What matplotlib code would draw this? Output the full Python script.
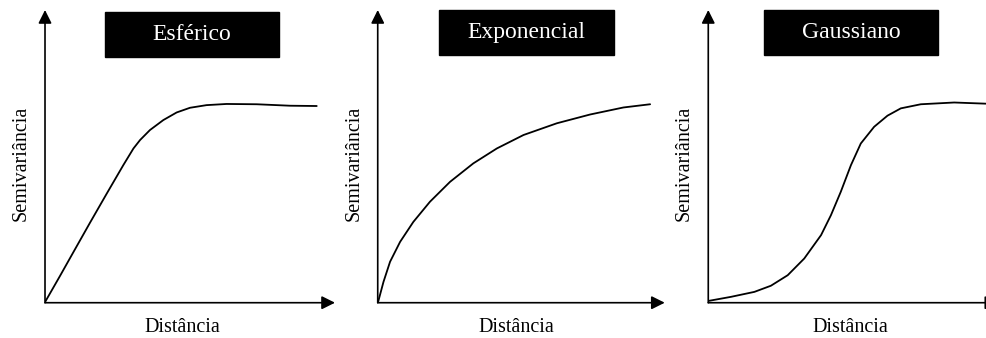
import matplotlib
matplotlib.use("Agg")
import matplotlib.pyplot as plt
from matplotlib.patches import Rectangle

plt.rcParams['font.family'] = ['Liberation Serif', 'DejaVu Serif']

# Semivariogram shapes (distance and semivariance in arbitrary units, 0-100)
titles = ["Esférico", "Exponencial", "Gaussiano"]

esferico_x = [0, 5.2, 9.8, 15.5, 21.3, 27.0, 30.5, 32.8, 36.2, 40.8, 45.4, 50.0,
              55.7, 62.6, 73.0, 84.5, 93.7]
esferico_y = [0.2, 9.2, 17.3, 27.3, 37.3, 47.0, 52.7, 55.6, 59.0, 62.4, 65.0, 66.6,
              67.5, 67.9, 67.8, 67.3, 67.2]

exponencial_x = [0.2, 2.0, 4.3, 7.8, 12.4, 18.2, 25.2, 33.3, 41.5, 50.8, 62.4, 74.0,
                 85.6, 94.9]
exponencial_y = [0.5, 7.1, 14.0, 20.8, 27.6, 34.5, 41.3, 47.6, 52.7, 57.3, 61.3, 64.3,
                 66.7, 67.8]

gaussiano_x = [0, 7.8, 15.9, 21.6, 27.4, 33.1, 38.9, 42.3, 45.7, 49.2, 52.6, 57.2,
               61.8, 66.4, 73.3, 84.8, 95.7]
gaussiano_y = [0.6, 2.0, 3.7, 5.8, 9.4, 15.1, 23.1, 29.9, 37.9, 47.0, 54.4, 60.1,
               63.9, 66.4, 67.8, 68.4, 68.0]

curves = [(esferico_x, esferico_y), (exponencial_x, exponencial_y), (gaussiano_x, gaussiano_y)]

xlabel = "Distância"
ylabel = "Semivariância"

fig = plt.figure(figsize=(9.87, 3.38), dpi=100)

# axes placement (figure fractions) and title box position (axes fractions)
lefts = [0.0456, 0.3827, 0.7176]
widths = [0.2938, 0.2908, 0.2938]
boxes = [(0.207, 0.839, 0.60, 0.154), (0.214, 0.846, 0.61, 0.154), (0.192, 0.846, 0.60, 0.154)]
xlab_pos = [0.475, 0.484, 0.489]

for i, (title, (xs, ys)) in enumerate(zip(titles, curves)):
    ax = fig.add_axes([lefts[i], 0.1044, widths[i], 0.866])
    ax.set_xlim(0, 100)
    ax.set_ylim(0, 100)
    ax.axis('off')

    ax.plot(xs, ys, color='black', lw=1.3, solid_joinstyle='round',
            solid_capstyle='round')

    # axis arrows
    arrow = dict(arrowstyle='-|>', color='black', lw=1.2, mutation_scale=20,
                 shrinkA=0, shrinkB=0)
    ax.annotate('', xy=(0, 100), xytext=(0, 0), arrowprops=arrow, annotation_clip=False)
    ax.annotate('', xy=(100, 0), xytext=(0, 0), arrowprops=arrow, annotation_clip=False)

    # black title box
    bx, by, bw, bh = boxes[i]
    ax.add_patch(Rectangle((bx, by), bw, bh, transform=ax.transAxes,
                           facecolor='black', edgecolor='black', clip_on=False))
    ax.text(bx + bw / 2, by + bh / 2, title, transform=ax.transAxes,
            color='white', fontsize=17, ha='center', va='center')

    ax.text(-0.083, 0.477, ylabel, transform=ax.transAxes, rotation=90,
            fontsize=14.5, ha='center', va='center')
    ax.text(xlab_pos[i], -0.086, xlabel, transform=ax.transAxes,
            fontsize=14.5, ha='center', va='center')

fig.savefig("out.png", dpi=100)
